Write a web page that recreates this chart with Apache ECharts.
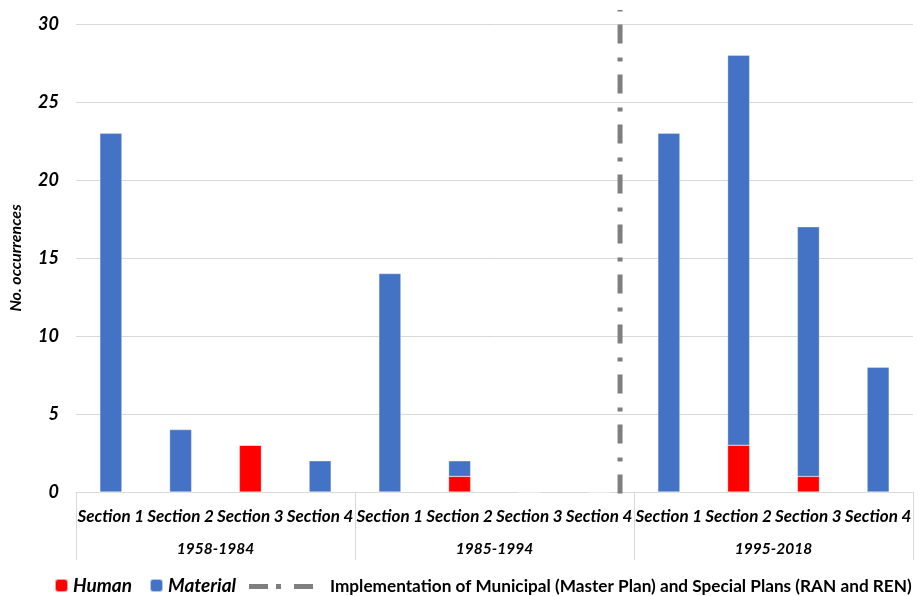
<!DOCTYPE html>
<html>
<head>
<meta charset="utf-8">
<script src="https://cdn.jsdelivr.net/npm/echarts@6/dist/echarts.min.js"></script>
<style>html,body{margin:0;padding:0;background:#fff}#c{width:919px;height:596px}</style>
</head>
<body>
<div id="c"></div>
<script>
const sections = ['Section 1','Section 2','Section 3','Section 4','Section 1','Section 2','Section 3','Section 4','Section 1','Section 2','Section 3','Section 4'];
const periods = ['1958-1984','1985-1994','1995-2018'];
const human =    [0, 0, 3, 0, 0, 1, 0, 0, 0, 3, 1, 0];
const material = [23, 4, 0, 2, 14, 1, 0, 0, 23, 25, 16, 8];
const planLineX = [7.8, 7.8];
const planLineY = [-0.1, 30.9];
const yTicks = [0, 5, 10, 15, 20, 25, 30];

const FONT = 'Lato';
const LINE_NAME = 'Implementation of Municipal (Master Plan) and Special Plans (RAN and REN)';
const chart = echarts.init(document.getElementById('c'));
chart.setOption({
  animation: false,
  grid: {left: 74, right: 6, top: 24, bottom: 104},
  legend: [
    {
      left: 49, top: 571, itemWidth: 13, itemHeight: 13, itemGap: 17,
      data: ['Human', 'Material'],
      textStyle: {fontFamily: FONT, fontWeight: 'bold', fontStyle: 'italic', fontSize: 19, color: '#000'}
    },
    {
      left: 244, top: 573, itemWidth: 64, itemHeight: 5,
      data: [{name: LINE_NAME, icon: 'path://M0 0H19V5H0Z M27 0H32V5H27Z M45 0H64V5H45Z', itemStyle: {color: '#7F7F7F'}}],
      textStyle: {fontFamily: FONT, fontWeight: 'bold', fontSize: 17.2, color: '#000', padding: [0,0,0,12]}
    }
  ],
  xAxis: [
    {
      type: 'category', data: sections, position: 'bottom',
      axisLine: {lineStyle: {color: '#D9D9D9'}},
      axisTick: {show: false},
      axisLabel: {interval: 0, margin: 16, fontFamily: FONT, fontWeight: 'bold', fontStyle: 'italic', fontSize: 17, color: '#000'}
    },
    {
      type: 'category', data: periods, position: 'bottom',
      axisLine: {show: false},
      axisTick: {show: true, length: 68, lineStyle: {color: '#D9D9D9'}},
      axisLabel: {margin: 49, fontFamily: FONT, fontWeight: 'bold', fontStyle: 'italic', fontSize: 15.5, color: '#000'}
    },
    {
      type: 'value', min: 0, max: 12, show: false
    }
  ],
  yAxis: {
    type: 'value', min: yTicks[0], max: yTicks[yTicks.length - 1], interval: 5,
    name: 'No. occurrences', nameLocation: 'middle', nameGap: 52, nameRotate: 90,
    nameTextStyle: {fontFamily: FONT, fontWeight: 'bold', fontStyle: 'italic', fontSize: 16, color: '#000'},
    axisLine: {show: false}, axisTick: {show: false},
    axisLabel: {margin: 17, fontFamily: FONT, fontWeight: 'bold', fontStyle: 'italic', fontSize: 18, color: '#000'},
    splitLine: {lineStyle: {color: '#D9D9D9'}}
  },
  series: [
    {
      name: 'Human', type: 'bar', stack: 'a', xAxisIndex: 0, barWidth: 22,
      data: human, itemStyle: {color: '#FF0000', borderColor: 'rgba(255,255,255,0.6)', borderWidth: 0.5}
    },
    {
      name: 'Material', type: 'bar', stack: 'a', xAxisIndex: 0, barWidth: 22,
      data: material, itemStyle: {color: '#4472C4', borderColor: 'rgba(255,255,255,0.6)', borderWidth: 0.5}
    },
    {
      name: LINE_NAME,
      type: 'line', xAxisIndex: 2, clip: false, symbol: 'none',
      data: planLineX.map((x, i) => [x, planLineY[i]]),
      lineStyle: {color: '#7F7F7F', width: 5, type: [19, 13, 4, 14], cap: 'butt'},
      itemStyle: {color: '#7F7F7F'}
    }
  ]
});
</script>
</body>
</html>
